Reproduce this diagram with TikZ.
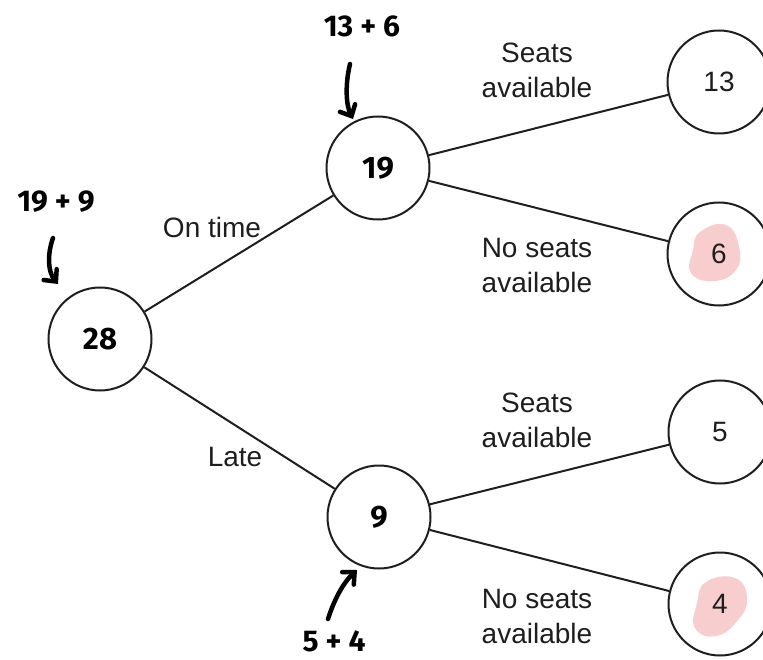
\documentclass[tikz,border=0pt]{standalone}
\usepackage{fontspec}
\setmainfont{Liberation Sans}
\newfontfamily\hand{Fira Sans}
\usetikzlibrary{arrows.meta}
\definecolor{ink}{RGB}{30,30,30}
\definecolor{hl}{RGB}{247,200,200}
\tikzset{
  circ/.style={circle,draw=ink,line width=2pt,minimum size=103pt,inner sep=0pt,fill=none},
  lab/.style={font=\fontsize{28}{35}\selectfont,text=ink,align=center,inner sep=0pt},
  handnum/.style={font=\hand\bfseries\fontsize{31}{31}\selectfont,text=black,inner sep=0pt},
  handsum/.style={font=\hand\bfseries\fontsize{30}{30}\selectfont,text=black,inner sep=0pt},
  branch/.style={draw=ink,line width=2pt},
  harrow/.style={draw=black,line width=4.5pt,line cap=round,-{Straight Barb[length=9pt,width=17pt,line cap=round]}},
  blob/.style={fill=hl,draw=none,opacity=0.9}
}
\newcommand{\hsp}{\hspace{7pt}}
\begin{document}
\begin{tikzpicture}[x=1pt,y=-1pt]
\useasboundingbox (0,0) rectangle (763,660);
% highlights
\fill[blob] plot[smooth cycle,tension=0.8] coordinates {(700,232) (726,225) (739,247) (736,270) (714,281) (691,273) (693,250)};
\fill[blob] plot[smooth cycle,tension=0.8] coordinates {(706,582) (735,578) (747,598) (738,620) (716,636) (695,628) (697,603)};
% nodes
\node[circ] (a) at (100,339) {};
\node[circ] (b) at (378,168) {};
\node[circ] (c) at (379,517) {};
\node[circ] (d) at (719,82) {};
\node[circ] (e) at (719,254) {};
\node[circ] (f) at (720,432) {};
\node[circ] (g) at (720,604) {};
\node[handnum] (ta) at (100,339) {28};
\node[handnum] (tb) at (378,168) {19};
\node[handnum] (tc) at (379,517) {9};
\node[lab] (td) at (719,82) {13};
\node[lab] (te) at (719,254) {6};
\node[lab] (tf) at (720,432) {5};
\node[lab] (tg) at (720,604) {4};
% branches
\draw[branch] (a) -- (b);
\draw[branch] (a) -- (c);
\draw[branch] (b) -- (d);
\draw[branch] (b) -- (e);
\draw[branch] (c) -- (f);
\draw[branch] (c) -- (g);
% labels
\node[lab] (l1) at (212,227) {On time};
\node[lab] (l2) at (235,457) {Late};
\node[lab] (l3) at (537,70) {Seats\\available};
\node[lab] (l4) at (537,266) {No seats\\available};
\node[lab] (l5) at (537,420) {Seats\\available};
\node[lab] (l6) at (537,617) {No seats\\available};
% handwritten sums
\node[handsum] (s1) at (362,26) {13\hsp+\hsp6};
\node[handsum] (s2) at (56,202) {19\hsp+\hsp9};
\node[handsum] (s3) at (334,641) {5\hsp+\hsp4};
% handwritten arrows
\coordinate (h1s) at (350,64);
\coordinate (h1e) at (353,119);
\coordinate (h2s) at (53,238);
\coordinate (h2e) at (58,284);
\coordinate (h3s) at (328,619);
\coordinate (h3e) at (357,570);
\draw[harrow] (h1s) .. controls (345,85) and (346,105) .. (h1e);
\draw[harrow] (h2s) .. controls (47,255) and (48,272) .. (h2e);
\draw[harrow] (h3s) .. controls (334,600) and (343,583) .. (h3e);
\end{tikzpicture}
\end{document}
